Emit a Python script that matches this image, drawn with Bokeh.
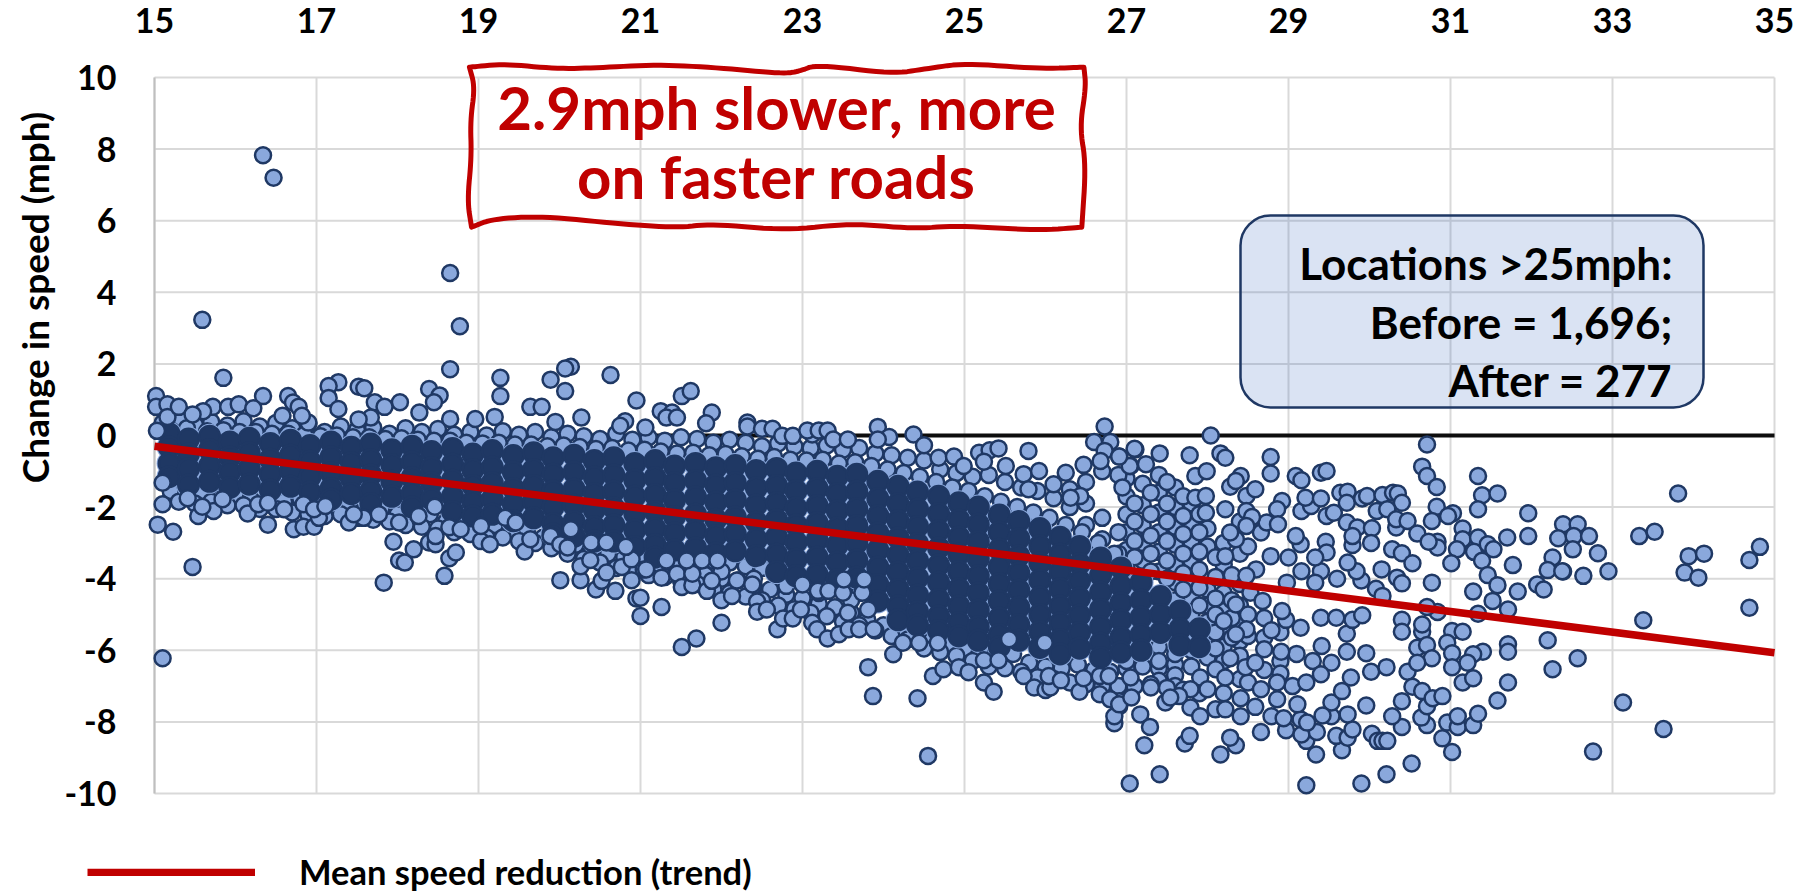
import math
from bokeh.embed import file_html
from bokeh.resources import INLINE
from bokeh.plotting import figure
from bokeh.models import Label, BoxAnnotation, PolyAnnotation, Legend, LegendItem, FixedTicker, Range1d, LinearAxis

FONT = "Lato"
x_ticks = [15, 17, 19, 21, 23, 25, 27, 29, 31, 33, 35]
y_ticks = [-10, -8, -6, -4, -2, 0, 2, 4, 6, 8, 10]
trend_x = [15, 35]
trend_y = [-0.3, -6.07]
zero_x = [15, 35]
zero_y = [0, 0]
title_lines = ["2.9mph slower, more", "on faster roads"]
info_lines = ["Locations >25mph:", "Before = 1,696;", "After = 277"]

# Estimated columns of the dense, unresolvable core of the cloud
core_x = [15.18,15.42,15.68,15.93,16.17,16.43,16.68,16.92,17.18,17.43,17.67,17.93,18.18,18.42,18.68,18.93,19.17,19.43,19.68,19.92,20.18,20.43,20.67,20.93,21.18,21.42,21.68,21.93,22.17,22.43,22.68,22.92,23.18,23.43,23.67,23.93,24.18,24.42,24.68,24.93,25.17,25.43,25.67,25.93,26.18,26.42,26.68,26.93,27.18,27.42,27.66,27.9]
core_y = [
[.05,-.32,-.78,-1.15],[-.1,-.52,-.93,-1.38],[-.02,-.4,-.85,-1.28],[-.18,-.6,-1.02,-1.45],[-.08,-.48,-.92,-1.36],
[-.22,-.66,-1.08,-1.52],[-.13,-.55,-.98,-1.42],[-.28,-.72,-1.15,-1.58],[-.18,-.6,-1.05,-1.48,-1.78],[-.33,-.76,-1.2,-1.62],
[-.24,-.68,-1.1,-1.55,-1.9],[-.4,-.82,-1.28,-1.7],[-.3,-.74,-1.18,-1.62,-2.0],[-.45,-.9,-1.32,-1.78],[-.36,-.8,-1.25,-1.7,-2.12],
[-.52,-.96,-1.4,-1.85,-2.25],[-.42,-.88,-1.32,-1.78,-2.2],[-.56,-1.02,-1.48,-1.92,-2.38],[-.48,-.95,-1.4,-1.85,-2.3],[-.62,-1.08,-1.55,-2,-2.46,-2.75],
[-.55,-1.02,-1.5,-1.95,-2.4,-2.82],[-.7,-1.16,-1.62,-2.08,-2.55,-2.95],[-.62,-1.1,-1.56,-2.02,-2.5,-2.95],[-.78,-1.24,-1.7,-2.18,-2.64,-3.1],[-.7,-1.18,-1.65,-2.12,-2.6,-3.05,-3.4],
[-.85,-1.32,-1.8,-2.26,-2.72,-3.2],[-.78,-1.26,-1.72,-2.2,-2.66,-3.14],[-.9,-1.38,-1.86,-2.34,-2.8,-3.28],[-.84,-1.32,-1.8,-2.28,-2.75,-3.22],[-.98,-1.46,-1.94,-2.42,-2.9,-3.36],
[-.92,-1.4,-1.88,-2.36,-2.84,-3.32,-3.8],[-1.05,-1.54,-2.02,-2.5,-2.98,-3.46,-3.92],[-1,-1.48,-1.96,-2.44,-2.92,-3.4,-3.88],[-1.14,-1.62,-2.1,-2.58,-3.06,-3.54,-4.02],[-1.08,-1.56,-2.04,-2.52,-3,-3.48,-3.96],
[-1.28,-1.76,-2.24,-2.72,-3.2,-3.68,-4.16,-4.62],[-1.42,-1.9,-2.38,-2.86,-3.34,-3.82,-4.3,-4.76,-5.15],[-1.58,-2.06,-2.54,-3.02,-3.5,-3.98,-4.46,-4.92,-5.3],[-1.7,-2.18,-2.66,-3.14,-3.62,-4.1,-4.58,-5.04,-5.45],[-1.88,-2.36,-2.84,-3.32,-3.8,-4.28,-4.76,-5.22,-5.6],
[-2,-2.48,-2.96,-3.44,-3.92,-4.4,-4.88,-5.34,-5.72],[-2.22,-2.7,-3.18,-3.66,-4.14,-4.62,-5.1,-5.56,-5.9],[-2.4,-2.88,-3.36,-3.84,-4.32,-4.8,-5.28,-5.72],[-2.6,-3.08,-3.56,-4.04,-4.52,-5,-5.48,-5.92],[-2.84,-3.32,-3.8,-4.28,-4.76,-5.24,-5.7,-6.1],
[-3.1,-3.58,-4.06,-4.54,-5.02,-5.5,-5.94],[-3.42,-3.9,-4.38,-4.86,-5.34,-5.8,-6.2],[-3.7,-4.2,-4.68,-5.16,-5.64,-6.05],[-4.1,-4.6,-5.08,-5.56,-6],[-4.5,-5,-5.5],[-4.9,-5.4,-5.85],[-5.4,-5.9]]

# Estimated rim of the cloud, light points drawn beneath the core
band_points = [(15.1,.35),(15.3,.45),(15.5,.3),(15.7,.38),(15.9,.28),(16.1,.4),(16.3,.25),(16.5,.35),(16.7,.2),(16.9,.33),(17.1,.1),(17.3,.25),(17.5,.15),(17.7,.22),(17.9,.05),(18.1,.2),(18.3,.1),(18.5,.18),(18.7,.02),(18.9,.1),(19.1,0),(19.3,.12),(19.5,.02),(19.7,.1),(19.9,-.05),(20.1,.05),(20.3,-.02),(20.5,-.1),(20.7,.05),(20.9,-.12),(21.1,-.05),(21.3,-.15),(21.5,-.05),(21.7,-.1),(21.9,-.2),(22.1,-.12),(22.3,-.2),(22.5,-.3),(22.7,-.22),(22.9,-.3),(23.1,-.35),(23.3,-.28),(23.5,-.4),(23.7,-.35),(23.9,-.5),(24.1,-.55),(24.3,-.62),(24.5,-.7),(24.7,-.95),(24.9,-1.05),(25.1,-1.15),(25.3,-1.1),(25.5,-1.3),(25.7,-1.45),(25.9,-1.55),(26.1,-1.75),(26.3,-2.0),
(15.2,-1.55),(15.4,-1.7),(15.6,-1.6),(15.8,-1.75),(16,-1.65),(16.2,-1.8),(16.4,-1.7),(16.6,-1.85),(16.8,-1.75),(17,-1.9),(17.2,-2.0),(17.4,-1.95),(17.6,-2.1),(17.8,-2.05),(18,-2.2),(18.2,-2.3),(18.4,-2.2),(18.6,-2.4),(18.8,-2.45),(19,-2.6),(19.2,-2.5),(19.4,-2.7),(19.6,-2.65),(19.8,-2.85),(20,-2.95),(20.2,-3.05),(20.4,-3.2),(20.6,-3.3),(20.8,-3.4),(21,-3.45),(21.2,-3.6),(21.4,-3.55),(21.6,-3.75),(21.8,-3.9),(22,-4.0),(22.2,-4.05),(22.4,-4.2),(22.6,-4.3),(22.8,-4.45),(23,-4.55),(23.2,-4.7),(23.4,-4.8),(23.6,-4.95),(23.8,-5.15),(24,-5.3),(24.2,-5.45),(24.4,-5.55),(24.6,-5.7),(24.8,-5.85),(25,-5.95),(25.2,-6.05),(25.4,-6.2),(25.6,-6.1),(25.8,-6.35),(26,-6.45),(26.2,-6.5),(26.4,-6.4),(26.6,-6.55),(26.8,-6.6),(27,-6.5),(27.2,-6.45),(27.4,-6.5),(27.6,-6.4),
(27,-1.2),(27,-1.7),(27,-2.2),(27,-2.7),(27,-3.2),(27,-3.7),(27.2,-1.35),(27.2,-1.95),(27.2,-2.5),(27.2,-3),(27.2,-3.5),(27.4,-1.1),(27.4,-1.6),(27.4,-2.15),(27.4,-2.7),(27.4,-3.25),(27.4,-3.8),(27.6,-1.45),(27.6,-2),(27.6,-2.55),(27.6,-3.05),(27.6,-3.6),(27.6,-4.1),(27.6,-4.6),(27.6,-5.1),(27.6,-5.6),(27.6,-6.1),(27.6,-6.7),(27.6,-7),
(27.8,-1.9),(27.8,-2.45),(27.8,-2.95),(27.8,-3.5),(27.8,-4),(27.8,-4.5),(27.8,-5),(27.8,-5.5),(27.8,-6),(27.8,-6.45),(28,-2.6),(28,-3.1),(28,-4.3),(28,-4.75),(28,-5.2),(28,-5.7),(28,-6.2),(28.2,-3),(28.2,-3.6),(28.2,-4.4),(28.2,-4.9),(28.2,-5.45),(28.2,-5.9),(28.2,-6.3),(28.2,-7.2),(28.4,-2.4),(28.4,-3.3),(28.4,-4.15),(28.4,-4.75),(28.4,-5.2),(28.4,-5.75),(28.4,-6.15),(28.4,-6.8),(27.4,-5.9),(27.4,-6.3),(27.4,-6.85),(27,-6.3),(27,-6.95),(27,-7.1),(26.5,-1.3),(26.7,-1),(26.9,-1.1),(26.3,-1.5),(26.5,-1.9),(26.7,-2.3),(26.9,-2.7),(26.5,-2.5),(26.7,-2.9),(26.9,-3.3),
(15.2,.15),(15.4,.2),(15.65,.12),(15.85,.15),(16.05,.1),(16.25,.1),(16.45,.05),(16.65,.05),(16.85,.02),(17.05,-.02),(17.25,0),(17.45,-.05),(17.65,-.05),(17.85,-.1),(18.05,-.08),(18.25,-.12),(18.45,-.15),(18.65,-.15),(18.85,-.2),(19.05,-.22),(19.25,-.2),(19.45,-.25),(19.65,-.25),(19.85,-.3),(20.05,-.28),(20.25,-.32),(20.45,-.38),(20.65,-.35),(20.85,-.42),(21.05,-.4),(21.25,-.45),(21.45,-.5),(21.65,-.48),(21.85,-.55),(22.05,-.52),(22.25,-.58),(22.45,-.65),(22.65,-.6),(22.85,-.68),(23.05,-.7),(23.25,-.68),(23.45,-.78),(23.65,-.75),(23.85,-.85),(24.05,-.95),(24.25,-1.05),(24.45,-1.15),(24.65,-1.3),(24.85,-1.45),(25.05,-1.55),(25.25,-1.7),(25.45,-1.85),(25.65,-2),(25.85,-2.15),(26.05,-2.3),(26.25,-2.5),(26.45,-2.7),(26.65,-3),(26.85,-3.3),
(15.3,-1.85),(15.5,-1.9),(15.7,-1.85),(15.9,-1.95),(16.1,-1.95),(16.3,-2.05),(16.5,-2.05),(16.7,-2.15),(16.9,-2.2),(17.1,-2.25),(17.3,-2.2),(17.5,-2.3),(17.7,-2.35),(17.9,-2.4),(18.1,-2.5),(18.3,-2.55),(18.5,-2.6),(18.7,-2.7),(18.9,-2.75),(19.1,-2.85),(19.3,-2.85),(19.5,-2.95),(19.7,-3),(19.9,-3.15),(20.1,-3.3),(20.3,-3.45),(20.5,-3.55),(20.7,-3.7),(20.9,-3.8),(21.1,-3.9),(21.3,-3.95),(21.5,-4.05),(21.7,-4.15),(21.9,-4.3),(22.1,-4.4),(22.3,-4.5),(22.5,-4.6),(22.7,-4.75),(22.9,-4.85),(23.1,-4.95),(23.3,-5.05),(23.5,-5.2),(23.7,-5.3),(23.9,-5.45),(24.1,-5.6),(24.3,-5.7),(24.5,-5.95),(24.7,-6.05),(24.9,-6.15),(25.1,-6.3),(25.3,-6.45),(25.5,-6.5),(25.7,-6.6),(25.9,-6.75),(26.1,-6.8),(26.3,-6.9),(26.5,-6.95),(26.7,-7),(26.9,-7),(27.1,-7),(27.3,-6.95),(27.5,-7.05),(27.7,-7.1),(27.9,-7.2),
(26.95,-1.45),(27.1,-1.9),(27.1,-2.4),(27.1,-2.95),(27.1,-3.4),(27.3,-1.6),(27.3,-2.2),(27.3,-2.8),(27.3,-3.3),(27.3,-3.8),(27.5,-1.3),(27.5,-1.9),(27.5,-2.4),(27.5,-2.95),(27.5,-3.5),(27.5,-4),(27.7,-1.7),(27.7,-2.25),(27.7,-2.75),(27.7,-3.3),(27.7,-3.85),(27.7,-4.3),(27.9,-2.2),(27.9,-2.7),(27.9,-3.25),(27.9,-3.75),(27.9,-4.25),(27.9,-4.75),(28.1,-3.4),(28.1,-3.95),(28.1,-4.55),(28.1,-5),(28.1,-5.5),(28.1,-5.95),(28.3,-3.9),(28.3,-4.6),(28.3,-5.1),(28.3,-5.65),(28.5,-3.1),(28.5,-5),(28.5,-5.6),(28.7,-5.1),(28.7,-5.65),(28.9,-5.5),(28.9,-6.3),(29.1,-6.1),(28.7,-6.55),(28.5,-6.9),(28.9,-6.65),(29.05,-7),(29.3,-6.3),
(21.7,-3.4),(21.9,-3.5),(22.1,-3.55),(22.3,-3.65),(22.5,-3.7),(22.7,-3.85),(22.9,-3.95),(23.1,-4.05),(23.3,-4.15),(23.5,-4.25),(23.7,-4.4),(23.9,-4.55),(22,-3.8),(22.4,-4),(22.8,-4.2),(23.2,-4.4),(23.6,-4.6)]

# Points
upper_points = [(16.34,7.83),(16.47,7.2),(15.59,3.23),(15.85,1.61),(18.65,4.54),(18.77,3.05),(18.65,1.85),(19.27,1.61),(19.27,1.1),(19.89,1.56),(20.14,1.92),(20.07,1.87),(20.07,1.24),(16.34,1.1),(17.27,1.49),(17.15,1.38),(17.15,1.05),(17.27,.74),(17.52,1.36),(17.59,1.32),(18.03,.93),(17.72,.93),(17.84,.8),(16.65,1.1),(16.71,.92),(16.78,.8),(15.02,1.1),(15.02,.8),(15.16,.87),(15.16,.52),(15.3,.8),(15.72,.8),(15.91,.8),(16.04,.87),(16.22,.76),(18.39,1.3),(18.52,1.12),(18.45,.93),(18.27,.64),(18.65,.46),(18.96,.46),(19.2,.52),(19.64,.8),(19.78,.8),(19.95,.38),(20.27,.5),(20.63,1.69),(20.95,.98),(17.67,.5),(17.52,.45),(16.9,.36),(16.82,.55),(16.58,.55),(15.6,.68),(15.47,.59),(15.03,.13),(20.81,.4),(20.75,.27),(21.06,.22),
(21.51,1.1),(21.62,1.24),(21.25,.68),(21.39,.64),(21.32,.5),(21.45,.5),(21.88,.64),(21.81,.34),(22.32,.36),(22.32,.25),(22.5,.19),(22.63,.19),(22.75,-.01),(22.88,-.01),(23.12,.03),(23.06,.14),(23.2,.14),(23.31,.14),(23.38,-.11),(23.56,-.11),(23.93,.24),(24.07,-.04),(23.93,-.11),(24.37,.03),(24.5,-.27),(24.68,-.62),(24.87,-.59),(24.99,-.85),(25.18,-.48),(25.31,-.41),(25.42,-.36),(25.24,-.73),(25.79,-.43),(25.51,-.85),(25.73,-1.08),(25.92,-.99),(25.79,-1.5),(26.25,-1.04),(26.47,-.82),(26.73,.25),(26.6,-.18),(26.8,-.18),(26.73,-.43),(26.91,-.59),(27.11,-.39),(27.05,-.85),(26.68,-.71),(26.1,-1.36),(26.43,-1.69),(26.31,-1.74)]
lower_points = [(15.1,-6.22),(15.47,-3.67),(15.04,-2.49),(15.23,-2.69),(15.1,-1.92),(15.1,-1.32),(15.41,-1.75),(15.54,-2.25),(15.73,-2.11),(15.59,-1.99),(15.84,-1.78),(16.15,-2.18),(16.28,-1.92),(16.4,-2.49),(16.4,-1.88),(16.6,-2.06),(16.72,-2.62),(16.84,-2.55),(16.97,-2.55),(17.03,-2.3),(16.84,-1.92),(16.97,-2.06),(17.11,-1.97),(17.4,-2.43),(17.58,-2.3),(17.46,-2.2),(17.77,-2.2),(17.95,-2.97),(17.83,-4.11),(18.02,-3.49),(18.09,-3.55),(18.2,-3.18),(18.02,-2.43),(18.26,-2.25),(18.39,-2.99),(18.47,-3.04),(18.47,-2.81),(18.58,-3.92),(18.64,-3.43),(18.72,-3.27),(18.64,-2.56),(18.46,-1.99),(18.78,-2.62),(19.03,-2.95),(19.14,-3.04),(19.03,-2.53),(19.33,-2.3),(19.46,-2.43),(19.57,-3.24),(19.64,-2.9),(19.89,-2.81),(20.01,-3.04),(20.14,-2.62),(20.1,-3.13),(20.01,-4.04),(20.26,-4.04),(20.26,-3.65),(20.38,-3.48),(20.39,-2.99),(20.45,-4.3),(20.52,-4.06),(20.58,-3.83),(20.69,-4.34),(20.58,-2.99),(20.77,-3.67),(20.89,-3.46),(20.89,-4.04),(20.82,-3.11),(20.95,-4.55),(21,-5.04),(21.04,-3.74),
(21.26,-4.79),(21,-4.53),(21.07,-3.74),(21.26,-3.97),(21.32,-3.49),(21.45,-3.86),(21.51,-4.23),(21.64,-4.18),(21.64,-3.86),(21.57,-3.49),(21.76,-3.49),(21.95,-3.49),(21.51,-5.91),(21.69,-5.67),(22,-5.23),(21.82,-4.34),(22,-4.6),(22.13,-4.48),(21.88,-4.06),(22.19,-4.05),(22.38,-4.16),(22.44,-4.64),(22.44,-4.92),(22.56,-4.86),(22.69,-5.41),(22.76,-5.11),(22.88,-5.11),(22.98,-4.86),(23.12,-5.23),(23.18,-5.41),(23.31,-5.67),(23.45,-5.55),(23.57,-5.41),(23.7,-5.41),(23.88,-5.41),(23.56,-4.95),(23.81,-6.47),(23.87,-7.28),(24.42,-7.34),(24.12,-6.11),(24.24,-5.79),(24.44,-5.79),(24.67,-5.79),(24.61,-6.72),(24.74,-6.53),(24.93,-6.47),(25.05,-6.61),(25.24,-6.9),(25.36,-7.16),(25.24,-6.28),(25.42,-6.28),(25.73,-6.72),(25.86,-7.04),(26,-7.11),(26.06,-7.04),(26.04,-6.72),(26.19,-6.84),(26.42,-7.16),(26.67,-7.23),(26.47,-6.78),(26.67,-6.72),(26.91,-7.42),(26.91,-7.56),(26.8,-7.37),(25.99,-5.79),(25.55,-5.69),(23.19,-4.34),(23.32,-4.34),(23.5,-4.39),(23.74,-4.39),(23,-4.16),(23.81,-4.86),(23.51,-4.02),(23.76,-4.02),(24.55,-8.95)]
right_points = [(28.04,0),(28.16,-.5),(28.22,-.62),(28.78,-.6),(28.78,-1.06),(29.09,-1.13),(29.16,-1.25),(29.4,-1.04),(29.47,-.99),(29.64,-1.6),(29.73,-1.57),(29.72,-1.88),(29.91,-1.76),(29.97,-1.69),(30.16,-1.66),(30.29,-1.6),(30.35,-1.62),(30.4,-1.88),(30.09,-2.11),(30.22,-2.06),(29.16,-2.11),(29.28,-1.97),(29.21,-1.74),(29.4,-1.76),(29.47,-2.25),(29.56,-2.16),(29.72,-2.43),(29.85,-2.57),(30.03,-2.59),(30.33,-2.57),(30.33,-2.34),(30.47,-2.39),(30.59,-2.74),(30.02,-3),(29.79,-3.06),(29.79,-2.81),(30.28,-3.18),(30.4,-3.29),(30.53,-3.57),(30.77,-4.11),(30.15,-3.74),(30.34,-3.97),(30.4,-4.13),(30.08,-4.28),(30.16,-4.48),(30.71,-.25),(30.65,-.87),(30.71,-1.13),(30.83,-1.44),(31.34,-1.13),(31.39,-1.67),(31.58,-1.62),(31.34,-2.06),(30.83,-1.99),(31.03,-2.17),(30.97,-2.25),(30.77,-2.39),(31.15,-2.6),(31.15,-2.9),(31.34,-2.85),(31.08,-3.18),(31.01,-3.57),(30.84,-2.97),(30.84,-3.13),(30.73,-2.97),(31.29,-3.25),(31.39,-3.5),(31.46,-3.04),(31.53,-3.18),(31.7,-2.85),(31.77,-3.62),(31.46,-3.9),(31.58,-4.18),(31.28,-4.36),(31.52,-4.62),(31.83,-4.36),(31.71,-4.86),(31.34,-4.98),(30.84,-4.93),(30.71,-4.79),(30.4,-5.15),(30.4,-5.48),(30.65,-5.48),(30.65,-5.28),(31.02,-5.46),(31.15,-5.48),(30.96,-5.79),(30.59,-5.93),(30.71,-5.85),(31.02,-6.08),(30.77,-6.22),(31.4,-6.04),(31.28,-6.11),(31.21,-6.35),(31.71,-5.83),(31.71,-6.04),(32.2,-5.72),(32.57,-6.22),(32.26,-6.53),(31.71,-6.9),(31.58,-7.4),(31.96,-2.17),(31.96,-2.81),(32.39,-2.48),(32.57,-2.48),(32.33,-2.87),(32.52,-2.81),(32.71,-2.81),(32.51,-3.18),(32.26,-3.41),(32.2,-3.76),(32.39,-3.8),(32.64,-3.92),(32.82,-3.29),(32.07,-4.16),(32.15,-4.3),(32.76,-8.83),(30.52,-9.16),(30.21,-9.46),(29.9,-9.72),(29.22,-9.77),(27.41,-9.46),(27.04,-9.72),(27.22,-8.65),(27.72,-8.6),(27.78,-8.39),(28.16,-8.91),(28.35,-8.65),(28.28,-8.44),(28.66,-8.28),(28.97,-8.23),(29.34,-8.91),(29.22,-8.53),(29.16,-8.35),(29.35,-8.28),(29.66,-8.79),(29.59,-8.39),(29.73,-8.44),(29.79,-8.21),(30.03,-8.33),(30.1,-8.53),(30.16,-8.53),(30.22,-8.53),(30.4,-8.14),(30.9,-8.46),(31.02,-8.84),(30.71,-8.09),(30.96,-8.02),(31.09,-8.14),(31.28,-8.09),(31.34,-7.77),(31.09,-7.84),(30.64,-7.88),(30.71,-7.56),(30.28,-7.84),(30.4,-7.42),(29.96,-7.54),(29.73,-7.79),(29.53,-7.84),(29.53,-7.46),(29.42,-7.82),(29.66,-7.14),(29.22,-6.9),(29.77,-6.76),(30.02,-6.6),(30.21,-6.47),(30.47,-6.6),(30.59,-6.35),(30.53,-7.02),(30.65,-7.14),(30.78,-7.34),(30.9,-7.28),(31.02,-6.47),(31.15,-6.9),(31.28,-6.78),(29.96,-6.08),(29.72,-6.04),(29.53,-6.35),(29.4,-6.67),(28.91,-6.04),(28.47,-6.47),(28.28,-6.22),(29.15,-5.37),(28.97,-5.15),(28.48,-5.41),(28.79,-5.44),(29.4,-5.09),(29.72,-5.54),(29.79,-5.15),(29.59,-5.09),(29.91,-5.02),(29.41,-5.88),(28.98,-4.11),(29.16,-3.79),(29.6,-4),(29.9,-4.05),(29.84,-3.79),(29.4,-3.79),(29.33,-4.11),(28.78,-3.37),(29,-3.41),(29.15,-3.04),(29.46,-2.97),(29.47,-3.27),(29.33,-3.41),(29.73,-3.55),(29.09,-2.81),(28.66,-2.71),(28.73,-2.43),(28.92,-1.83),(28.86,-2.06),(28.87,-2.48),(28.48,-1.69),(28.59,-1.5),(28.28,-1.43),(28.41,-1.13),(28.35,-1.27),(27.85,-1.13),(27.78,-.55),(27.99,-1),(27.85,-1.74),(27.41,-.5),(27.1,-.37),(27.24,-.8),(27.04,-.85),(26.91,-.59),(27.98,-1.69),(28.22,-2.06),(27.98,-2.16),(28.48,-2.11),(28.55,-2.28),(28.35,-2.9),(28.28,-2.71),(28.48,-2.53),(28.6,-3.74),(28.48,-3.92),(28.22,-3.37),(28.53,-4.39),(28.68,-4.62),(28.35,-4.72),(28.2,-5.18),(28.35,-5.55),(28.92,-4.9),(28.7,-5.97),(28.59,-6.35),(28.1,-6.53),(27.91,-6.76),(27.79,-7.09),(28.22,-6.76),(27.3,-7.04),(27.48,-7.46),(27.79,-7.6),(27.91,-7.84),(28.1,-7.65),(28.22,-7.65),(28.41,-7.84),(28.41,-7.34),(28.59,-7.58),(28.79,-7.84),(28.94,-7.9),(28.86,-7.37),(29.15,-7.93),(29.23,-8.02),(29.11,-7.51),(28.86,-6.9),(28.66,-7.09),(28,-7.09),(27.17,-7.79),(27.29,-8.14),(26.85,-8.04),(26.85,-7.84),(26.91,-7.51),(26.78,-6.72),(27.06,-7.32),(27.65,-7.28),(27.54,-7.32),(27.05,-6.76),
(33.81,-1.62),(33.33,-2.81),(33.52,-2.69),(33.94,-3.37),(34.13,-3.3),(34.82,-3.11),(34.69,-3.48),(33.89,-3.83),(34.06,-3.97),(32.95,-3.79),(34.69,-4.81),(33.38,-5.16),(33.13,-7.46),(33.63,-8.2),(32.38,-3.79)]

# Page geometry in window pixels: where 15..35 and 10..-10 sit
LEFT, RIGHT, TOP, BOTTOM = 154, 1774, 77, 793
WIDTH, HEIGHT = 1803, 893
def dx(px):
    return 15 + (px - LEFT) * 20 / (RIGHT - LEFT)
def dy(py):
    return 10 - (py - TOP) * 20 / (BOTTOM - TOP)

# The frame fills the page, so nothing that lies outside 15..35 / -10..10 is clipped
p = figure(frame_width=WIDTH, frame_height=HEIGHT, output_backend="svg", toolbar_location=None,
           x_range=Range1d(dx(0), dx(WIDTH)), y_range=Range1d(dy(HEIGHT), dy(0)),
           x_axis_location=None, y_axis_location=None, min_border=0,
           background_fill_color="white", border_fill_color="white", outline_line_color=None)
p.grid.visible = False

x_axis = LinearAxis(fixed_location=y_ticks[-1])
y_axis = LinearAxis(fixed_location=x_ticks[0])
for ax, ticks in ((x_axis, x_ticks), (y_axis, y_ticks)):
    ax.ticker = FixedTicker(ticks=ticks)
    ax.major_tick_line_color = None
    ax.minor_tick_line_color = None
    ax.axis_line_color = None
    ax.major_label_overrides = {t: str(t) for t in ticks}
    ax.major_label_text_font = FONT
    ax.major_label_text_font_style = "bold"
    ax.major_label_text_font_size = "34px"
    ax.major_label_text_color = "black"
x_axis.major_label_standoff = 39
y_axis.major_label_standoff = 32
p.add_layout(x_axis, "above")
p.add_layout(y_axis, "left")

# Gridlines drawn to the exact 15..35 / -10..10 extent
p.multi_line([[t, t] for t in x_ticks], [[y_ticks[0], y_ticks[-1]] for t in x_ticks], line_color="#D9D9D9", line_width=2)
p.multi_line([[x_ticks[0], x_ticks[-1]] for t in y_ticks], [[t, t] for t in y_ticks], line_color="#D9D9D9", line_width=2)
p.line([x_ticks[0], x_ticks[0]], [y_ticks[0], y_ticks[-1]], line_color="#BFBFBF", line_width=2)
p.line(zero_x, zero_y, line_color="#0D0D0D", line_width=4)

FILL, EDGE = "#8AA8DC", "#1F3864"
bx, by = zip(*band_points)
cx = [x for x, col in zip(core_x, core_y) for _ in col]
cy = [y for col in core_y for y in col]
p.scatter(bx, by, size=16, fill_color=FILL, line_color=EDGE, line_width=2.5)
p.scatter(cx, cy, size=25, fill_color=FILL, line_color=None)
p.scatter(cx, cy, size=20.5, fill_color=EDGE, line_color=EDGE, line_width=2.5)
for pts in (upper_points, lower_points, right_points):
    px_, py_ = zip(*pts)
    p.scatter(px_, py_, size=16, fill_color=FILL, line_color=EDGE, line_width=2.5)

trend = p.line(trend_x, trend_y, line_color="#C00000", line_width=7.5)

legend = Legend(items=[LegendItem(label="Mean speed reduction (trend)", renderers=[trend])],
                location=(87, 1), orientation="horizontal", glyph_width=168, glyph_height=8,
                label_standoff=44, padding=0, margin=0, spacing=0,
                background_fill_alpha=0, border_line_color=None,
                label_text_font=FONT, label_text_font_style="bold", label_text_font_size="34.5px",
                label_text_color="black")
p.add_layout(legend, "center")

p.add_layout(Label(x=dx(34), y=dy(297), text="Change in speed (mph)", angle=math.pi / 2, text_align="center",
                   text_baseline="middle", text_font=FONT, text_font_style="bold", text_font_size="37px",
                   text_color="black"))

def chaikin(side):
    pts = side
    for _ in range(3):
        out = [pts[0]]
        for (a, b), (c, d) in zip(pts[:-1], pts[1:]):
            out += [(0.75 * a + 0.25 * c, 0.75 * b + 0.25 * d), (0.25 * a + 0.75 * c, 0.25 * b + 0.75 * d)]
        pts = out + [pts[-1]]
    return pts

wavy_sides = [[(45,80),(130,70),(250,85),(350,82),(490,72),(640,82),(790,100),(830,92),(870,72),(1050,100),(1130,85),(1220,68),(1400,85),(1505,80)],
              [(1505,80),(1510,140),(1495,260),(1510,370),(1500,560)],
              [(1500,560),(1400,570),(1200,555),(1100,565),(950,548),(800,570),(620,550),(540,562),(400,550),(220,527),(100,535),(50,560)],
              [(50,560),(40,480),(50,350),(47,240),(58,140),(45,80)]]
wavy_z = [pt for side in wavy_sides for pt in chaikin(side)]
p.add_layout(PolyAnnotation(xs=[dx(450 + a / 2.376) for a, b in wavy_z], ys=[dy(40 + b / 3) for a, b in wavy_z],
                            xs_units="data", ys_units="data", fill_alpha=0, fill_color=None,
                            line_color="#C00000", line_alpha=1, line_width=5, line_join="round"))
for line, base in zip(title_lines, (129, 198)):
    p.add_layout(Label(x=dx(776), y=dy(base - 23), text=line, text_align="center", text_baseline="alphabetic",
                       text_font=FONT, text_font_style="bold", text_font_size="60px", text_color="#C00000"))

p.add_layout(BoxAnnotation(left=dx(1240), right=dx(1703), top=dy(215), bottom=dy(407), border_radius=30,
                           fill_color="#4472C4", fill_alpha=0.2, line_color=EDGE, line_alpha=1, line_width=2.5))
for line, base in zip(info_lines, (278, 337, 395)):
    p.add_layout(Label(x=dx(1672), y=dy(base - 16), text=line, text_align="right", text_baseline="alphabetic",
                       text_font=FONT, text_font_style="bold", text_font_size="44px", text_color="black"))

open("out.html", "w").write(file_html(p, INLINE))
